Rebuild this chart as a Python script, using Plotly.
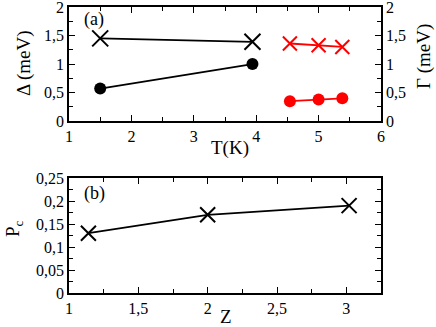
import plotly.graph_objects as go

# panel (a): gap and broadening vs temperature
t_black = [1.5, 3.94]
delta_cross = [1.45, 1.39]
delta_dot = [0.57, 1.0]
t_red = [4.54, 5.0, 5.38]
gamma_cross = [1.36, 1.33, 1.3]
gamma_dot = [0.35, 0.38, 0.4]

# panel (b): Pc vs Z
z_vals = [1.14, 2.0, 3.02]
pc_vals = [0.13, 0.17, 0.19]

font = "Liberation Serif"
black = "black"
red = "#ff0000"

fig = go.Figure()
fig.add_trace(go.Scatter(x=t_black, y=delta_cross, mode="lines+markers",
                         line=dict(color=black, width=1.8),
                         marker=dict(symbol="x-thin-open", size=16, line=dict(color=black, width=2))))
fig.add_trace(go.Scatter(x=t_black, y=delta_dot, mode="lines+markers",
                         line=dict(color=black, width=1.8),
                         marker=dict(symbol="circle", size=12, color=black)))
fig.add_trace(go.Scatter(x=t_red, y=gamma_cross, mode="lines+markers", yaxis="y2",
                         line=dict(color=red, width=1.8),
                         marker=dict(symbol="x-thin-open", size=14, line=dict(color=red, width=2))))
fig.add_trace(go.Scatter(x=t_red, y=gamma_dot, mode="lines+markers", yaxis="y2",
                         line=dict(color=red, width=1.8),
                         marker=dict(symbol="circle", size=12, color=red)))
fig.add_trace(go.Scatter(x=z_vals, y=pc_vals, mode="lines+markers", xaxis="x3", yaxis="y3",
                         line=dict(color=black, width=1.8),
                         marker=dict(symbol="x-thin-open", size=15, line=dict(color=black, width=2))))

tickfont = dict(family=font, size=16, color="black")
common = dict(showline=True, linecolor="black", linewidth=1.5, ticks="inside",
              ticklen=6, tickcolor="black", tickwidth=1.2, showgrid=False,
              zeroline=False, tickfont=tickfont, automargin=False,
              ticklabeloverflow="allow")

top_dom = [0.601, 1.0]
bot_dom = [0.0, 0.402]

fig.update_layout(
    width=436, height=327,
    margin=dict(l=69, r=55, t=7, b=34),
    paper_bgcolor="white", plot_bgcolor="white",
    font=dict(family=font, size=16, color="black"),
    showlegend=False,
    separators=",.",
    xaxis=dict(**common, domain=[0, 1], range=[1, 6], dtick=1, mirror="ticks",
               minor=dict(ticks="inside", ticklen=4, dtick=0.5, tickcolor="black"),
               anchor="y"),
    yaxis=dict(**common, domain=top_dom, range=[0, 2], dtick=0.5, anchor="x",
               minor=dict(ticks="inside", ticklen=4, dtick=0.25, tickcolor="black")),
    yaxis2=dict(**common, domain=top_dom, range=[0, 2], dtick=0.5, overlaying="y",
                side="right", anchor="x",
                minor=dict(ticks="inside", ticklen=4, dtick=0.25, tickcolor="black")),
    xaxis3=dict(**common, domain=[0, 1], range=[1, 3.25], dtick=0.5, mirror="ticks",
                anchor="y3",
                minor=dict(ticks="inside", ticklen=4, dtick=0.25, tickcolor="black")),
    yaxis3=dict(**common, domain=bot_dom, range=[0, 0.25], dtick=0.05, mirror="ticks",
                anchor="x3",
                minor=dict(ticks="inside", ticklen=4, dtick=0.025, tickcolor="black")),
)

# plot area spans x 69..381 and y 7..293 in page pixels
def label(text, x, y, angle=0, size=19, anchor="center"):
    fig.add_annotation(text=text, x=(x - 69) / 312, y=(293 - y) / 286,
                       xref="paper", yref="paper",
                       showarrow=False, textangle=angle, xanchor=anchor, yanchor="middle",
                       font=dict(family=font, size=size, color="black"))

label("T(K)", 230, 148)
label("Z", 226, 316)
label("Δ (meV)", 24, 63, angle=-90)
label("Γ (meV)", 424, 57, angle=-90)
label("P<sub>c</sub>", 14, 228, angle=-90)
label("(a)", 82, 20, size=18, anchor="left")
label("(b)", 82, 193, size=18, anchor="left")

fig.write_html("out.html", config={"displayModeBar": False},
               post_script="document.body.style.margin='0';")
